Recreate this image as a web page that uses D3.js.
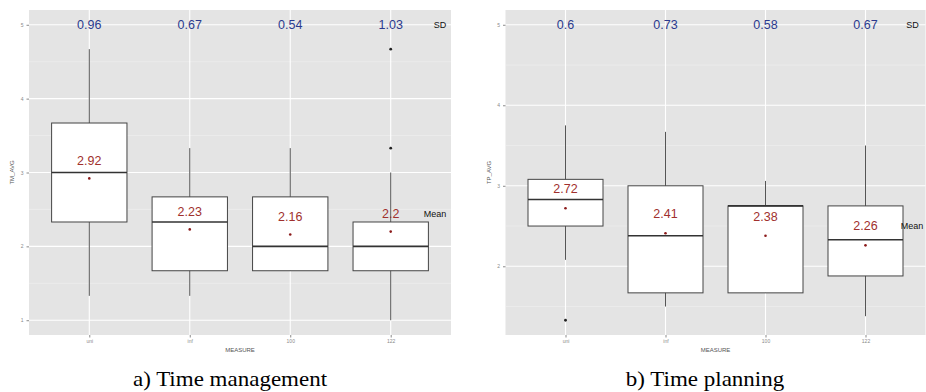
<!DOCTYPE html>
<html>
<head>
<meta charset="utf-8">
<script src="https://cdn.jsdelivr.net/npm/d3@7"></script>
<style>
  body { margin: 0; background: #fff; }
  svg { display: block; }
</style>
</head>
<body>
<div id="chart"></div>
<script>
// categories (x axis)
var measures = ["uni", "inf", "100", "122"];

// a) Time management
var tmLow    = [1.33, 1.33, 1.67, 1.00];
var tmQ1     = [2.33, 1.67, 1.67, 1.67];
var tmMedian = [3.00, 2.33, 2.00, 2.00];
var tmQ3     = [3.67, 2.67, 2.67, 2.33];
var tmHigh   = [4.67, 3.33, 3.33, 3.00];
var tmMean   = [2.92, 2.23, 2.16, 2.2];
var tmSD     = [0.96, 0.67, 0.54, 1.03];
var tmOutliers = [{m: "122", v: 3.33}, {m: "122", v: 4.67}];
var tmTicks  = [1, 2, 3, 4, 5];

// b) Time planning
var tpLow    = [2.08, 1.50, 1.67, 1.38];
var tpQ1     = [2.50, 1.67, 1.67, 1.88];
var tpMedian = [2.83, 2.38, 2.75, 2.33];
var tpQ3     = [3.08, 3.00, 2.75, 2.75];
var tpHigh   = [3.75, 3.67, 3.06, 3.50];
var tpMean   = [2.72, 2.41, 2.38, 2.26];
var tpSD     = [0.6, 0.73, 0.58, 0.67];
var tpOutliers = [{m: "uni", v: 1.33}];
var tpTicks  = [2, 3, 4, 5];

var W = 926, H = 392;

var svg = d3.select("#chart")
  .append("svg")
    .attr("width", W)
    .attr("height", H);

function drawPanel(opt) {
  var left = opt.left, right = opt.right, top = 10, bottom = 335;

  // discrete x with ggplot-like 0.6 expansion
  var x = d3.scalePoint()
    .domain(measures)
    .range([left, right])
    .padding(0.6);
  var step = x.step();

  // y domain: data range (min..5) with 5% expansion
  var lo = opt.dataMin, hi = 5, pad = (hi - lo) * 0.05;
  var y = d3.scaleLinear()
    .domain([lo - pad, hi + pad])
    .range([bottom, top]);

  var g = svg.append("g");

  // panel background
  g.append("rect")
    .attr("x", left).attr("y", top)
    .attr("width", right - left).attr("height", bottom - top)
    .attr("fill", "#e4e4e4");

  // minor grid
  var minor = opt.ticks.slice(0, -1).map(function(t) { return t + 0.5; });
  if (opt.ticks[0] - 0.5 > y.domain()[0]) minor.unshift(opt.ticks[0] - 0.5);
  g.selectAll(".minor")
    .data(minor)
    .enter().append("line")
      .attr("x1", left).attr("x2", right)
      .attr("y1", function(d) { return y(d); })
      .attr("y2", function(d) { return y(d); })
      .attr("stroke", "#f0f0f0")
      .attr("stroke-width", 0.6);

  // major grid
  g.selectAll(".hgrid")
    .data(opt.ticks)
    .enter().append("line")
      .attr("x1", left).attr("x2", right)
      .attr("y1", function(d) { return y(d); })
      .attr("y2", function(d) { return y(d); })
      .attr("stroke", "#fff")
      .attr("stroke-width", 1.1);
  g.selectAll(".vgrid")
    .data(measures)
    .enter().append("line")
      .attr("x1", function(d) { return x(d); })
      .attr("x2", function(d) { return x(d); })
      .attr("y1", top).attr("y2", bottom)
      .attr("stroke", "#fff")
      .attr("stroke-width", 1.1);

  // axes
  var ya = g.append("g")
    .attr("transform", "translate(" + left + ",0)")
    .call(d3.axisLeft(y).tickValues(opt.ticks).tickFormat(d3.format("d"))
      .tickSize(2.5).tickPadding(3));
  var xa = g.append("g")
    .attr("transform", "translate(0," + bottom + ")")
    .call(d3.axisBottom(x).tickSize(2.5).tickPadding(2));
  [ya, xa].forEach(function(a) {
    a.select(".domain").remove();
    a.selectAll("line").attr("stroke", "#8a8a8a");
    a.selectAll("text")
      .attr("fill", "#8a8a8a")
      .style("font-family", "Liberation Sans, Arial, sans-serif")
      .style("font-size", "5px");
  });

  // axis titles
  g.append("text")
    .attr("x", (left + right) / 2)
    .attr("y", 352)
    .attr("text-anchor", "middle")
    .style("font-family", "Liberation Sans, Arial, sans-serif")
    .style("font-size", "6px")
    .attr("fill", "#555")
    .text("MEASURE");
  g.append("text")
    .attr("transform", "translate(" + (left - 15) + "," + ((top + bottom) / 2) + ")rotate(-90)")
    .attr("text-anchor", "middle")
    .style("font-family", "Liberation Sans, Arial, sans-serif")
    .style("font-size", "6px")
    .attr("fill", "#555")
    .text(opt.yTitle);

  var bw = step * 0.75;
  var idx = d3.range(measures.length);

  // whiskers
  g.selectAll(".whisk")
    .data(idx)
    .enter().append("line")
      .attr("x1", function(i) { return x(measures[i]); })
      .attr("x2", function(i) { return x(measures[i]); })
      .attr("y1", function(i) { return y(opt.low[i]); })
      .attr("y2", function(i) { return y(opt.high[i]); })
      .attr("stroke", "#555")
      .attr("stroke-width", 1);

  // boxes
  g.selectAll(".box")
    .data(idx)
    .enter().append("rect")
      .attr("x", function(i) { return x(measures[i]) - bw / 2; })
      .attr("width", bw)
      .attr("y", function(i) { return y(opt.q3[i]); })
      .attr("height", function(i) { return y(opt.q1[i]) - y(opt.q3[i]); })
      .attr("fill", "#fff")
      .attr("stroke", "#444")
      .attr("stroke-width", 1);

  // medians
  g.selectAll(".med")
    .data(idx)
    .enter().append("line")
      .attr("x1", function(i) { return x(measures[i]) - bw / 2; })
      .attr("x2", function(i) { return x(measures[i]) + bw / 2; })
      .attr("y1", function(i) { return y(opt.median[i]); })
      .attr("y2", function(i) { return y(opt.median[i]); })
      .attr("stroke", "#333")
      .attr("stroke-width", 1.6);

  // outliers
  g.selectAll(".out")
    .data(opt.outliers)
    .enter().append("circle")
      .attr("cx", function(d) { return x(d.m); })
      .attr("cy", function(d) { return y(d.v); })
      .attr("r", 1.4)
      .attr("fill", "#222");

  // means
  g.selectAll(".mean")
    .data(idx)
    .enter().append("circle")
      .attr("cx", function(i) { return x(measures[i]); })
      .attr("cy", function(i) { return y(opt.mean[i]); })
      .attr("r", 1.3)
      .attr("fill", "#8b1a1a");

  g.selectAll(".meanlab")
    .data(idx)
    .enter().append("text")
      .attr("x", function(i) { return x(measures[i]); })
      .attr("y", function(i) { return y(opt.mean[i] + 0.24); })
      .attr("dy", "0.35em")
      .attr("text-anchor", "middle")
      .style("font-family", "Liberation Sans, Arial, sans-serif")
      .style("font-size", "12.5px")
      .attr("fill", "#a0302d")
      .text(function(i) { return opt.mean[i]; });

  g.selectAll(".sdlab")
    .data(idx)
    .enter().append("text")
      .attr("x", function(i) { return x(measures[i]); })
      .attr("y", y(5))
      .attr("dy", "0.35em")
      .attr("text-anchor", "middle")
      .style("font-family", "Liberation Sans, Arial, sans-serif")
      .style("font-size", "12.5px")
      .attr("fill", "#2b3a8e")
      .text(function(i) { return opt.sd[i]; });

  var last = measures[measures.length - 1];
  g.append("text")
    .attr("x", x(last) + step * opt.sdOff)
    .attr("y", y(5))
    .attr("dy", "0.35em")
    .attr("text-anchor", "middle")
    .style("font-family", "Liberation Sans, Arial, sans-serif")
    .style("font-size", "9px")
    .attr("fill", "#111")
    .text("SD");
  g.append("text")
    .attr("x", Math.min(x(last) + step * opt.meanOff, W - 14))
    .attr("y", y(opt.mean[measures.length - 1] + 0.24))
    .attr("dy", "0.35em")
    .attr("text-anchor", "middle")
    .style("font-family", "Liberation Sans, Arial, sans-serif")
    .style("font-size", "9px")
    .attr("fill", "#111")
    .text("Mean");

  // caption
  g.append("text")
    .attr("transform", "translate(" + opt.capX + ",386)scale(1.15,1)")
    .attr("text-anchor", "middle")
    .style("font-family", "Liberation Serif, Times New Roman, serif")
    .style("font-size", "20px")
    .attr("fill", "#000")
    .text(opt.caption);
}

drawPanel({
  left: 29, right: 451, dataMin: 1, ticks: tmTicks, yTitle: "TM_AVG",
  low: tmLow, q1: tmQ1, median: tmMedian, q3: tmQ3, high: tmHigh,
  mean: tmMean, sd: tmSD, outliers: tmOutliers,
  sdOff: 0.49, meanOff: 0.44, capX: 230, caption: "a) Time management"
});

drawPanel({
  left: 505.5, right: 925.5, dataMin: 1.33, ticks: tpTicks, yTitle: "TP_AVG",
  low: tpLow, q1: tpQ1, median: tpMedian, q3: tpQ3, high: tpHigh,
  mean: tpMean, sd: tpSD, outliers: tpOutliers,
  sdOff: 0.47, meanOff: 0.55, capX: 705, caption: "b) Time planning"
});
</script>
</body>
</html>
